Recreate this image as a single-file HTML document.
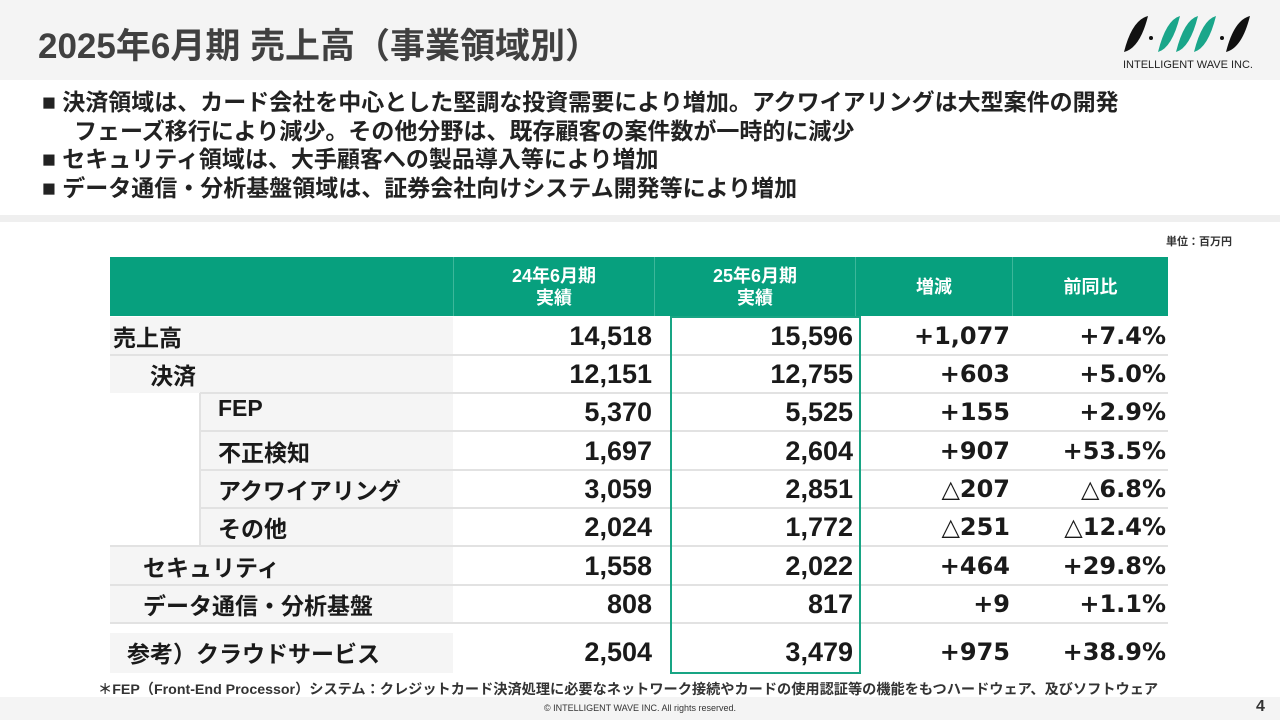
<!DOCTYPE html>
<html lang="ja"><head><meta charset="utf-8">
<style>
*{margin:0;padding:0;box-sizing:border-box}
body{width:1280px;height:720px;position:relative;background:#fff;font-family:"Liberation Sans","Noto Sans CJK JP",sans-serif;color:#1a1a1a;overflow:hidden}
.abs{position:absolute}
.hdr{left:0;top:0;width:1280px;height:80px;background:#f4f4f4}
.title{left:38px;top:18px;font-size:35px;font-weight:bold;color:#404040;white-space:nowrap}
.bul{left:42px;font-size:23px;font-weight:bold;color:#222;white-space:nowrap;line-height:28.5px}
.sep{left:0;top:215px;width:1280px;height:7px;background:#efefef}
.th{background:#07a07e;color:#fff;font-weight:bold;font-size:18px;text-align:center;display:flex;align-items:center;justify-content:center;line-height:22px;border-left:1px solid #3cb79a}
.lab{font-size:23px;font-weight:bold;white-space:nowrap}
.num{font-size:27px;font-weight:bold;text-align:right;white-space:nowrap;line-height:30px}
.num2{font-family:"DejaVu Sans","Noto Sans CJK JP",sans-serif;font-size:24px}
.line{height:2px;background:#e2e2e2}
</style></head><body>
<div class="abs hdr"></div>
<div class="abs title">2025年6月期 売上高（事業領域別）</div>
<div class="abs" style="left:1118px;top:12px;width:140px;height:60px">
<svg width="140" height="60" viewBox="0 0 140 60">
<path d="M6 40 Q14 8 30 4 Q22 36 6 40Z" fill="#111"/>
<circle cx="33" cy="26" r="2" fill="#111"/>
<path d="M40 40 Q48 8 62 4 Q54 36 40 40Z M58 40 Q66 8 80 4 Q72 36 58 40Z M76 40 Q84 8 98 4 Q90 36 76 40Z" fill="#1aa68a"/>
<circle cx="104" cy="26" r="2" fill="#111"/>
<path d="M108 40 Q116 8 132 4 Q124 36 108 40Z" fill="#111"/>
<text x="70" y="56" font-size="11" text-anchor="middle" fill="#222" font-family="Liberation Sans">INTELLIGENT WAVE INC.</text>
</svg></div>
<div class="abs bul" style="top:88px">■ 決済領域は、カード会社を中心とした堅調な投資需要により増加。アクワイアリングは大型案件の開発<br>&nbsp;&nbsp;&nbsp;&nbsp;&nbsp;フェーズ移行により減少。その他分野は、既存顧客の案件数が一時的に減少</div>
<div class="abs bul" style="top:145px">■ セキュリティ領域は、大手顧客への製品導入等により増加</div>
<div class="abs bul" style="top:174px">■ データ通信・分析基盤領域は、証券会社向けシステム開発等により増加</div>
<div class="abs sep"></div>
<div class="abs" style="left:1166px;top:233px;font-size:11px;font-weight:bold;color:#333">単位：百万円</div>

<div class="abs" style="left:110px;top:317px;width:343px;height:306px;background:#f5f5f5"></div>
<div class="abs" style="left:110px;top:633px;width:343px;height:40px;background:#f5f5f5"></div>
<div class="abs" style="left:110px;top:393px;width:90px;height:154px;background:#fff"></div>
<div class="abs" style="left:199px;top:393px;width:2px;height:154px;background:#e2e2e2"></div>

<div id="tbl"></div>

<div class="abs" style="left:670px;top:316px;width:191px;height:358px;border:2.5px solid #18a584"></div>

<div class="abs" style="left:98px;top:679px;font-size:14.2px;font-weight:bold;color:#333;white-space:nowrap">＊FEP（Front-End Processor）システム：クレジットカード決済処理に必要なネットワーク接続やカードの使用認証等の機能をもつハードウェア、及びソフトウェア</div>
<div class="abs" style="left:0;top:697px;width:1280px;height:23px;background:#f4f4f4"></div>
<div class="abs" style="left:0;top:703px;width:1280px;text-align:center;font-size:9px;color:#333">© INTELLIGENT WAVE INC. All rights reserved.</div>
<div class="abs" style="left:1256px;top:698px;font-size:16px;font-weight:bold;color:#333">4</div>

<script>
const headers=["24年6月期<br>実績","25年6月期<br>実績","増減","前同比"];
const labels=["売上高","決済","FEP","不正検知","アクワイアリング","その他","セキュリティ","データ通信・分析基盤","参考）クラウドサービス"];
const indents=[113,150,218,218,218,218,143,143,127];
const fy24=["14,518","12,151","5,370","1,697","3,059","2,024","1,558","808","2,504"];
const fy25=["15,596","12,755","5,525","2,604","2,851","1,772","2,022","817","3,479"];
const diff=["+1,077","+603","+155","+907","△207","△251","+464","+9","+975"];
const ratio=["+7.4%","+5.0%","+2.9%","+53.5%","△6.8%","△12.4%","+29.8%","+1.1%","+38.9%"];
const colX=[453,654,855,1012,1168];
const rowTop=[317,355,393,432,470,508,547,585,633];
const t=document.getElementById('tbl');
function mk(cls,st,html){const d=document.createElement('div');d.className='abs '+cls;d.style.cssText=st;d.innerHTML=html;t.appendChild(d);return d;}
const hb=mk('','left:110px;top:257px;width:1058px;height:59px;background:#07a07e','');


headers.forEach((h,i)=>{
 const d=mk('th',`left:${colX[i]}px;top:257px;width:${colX[i+1]-colX[i]}px;height:59px`,h);
 
 
});
labels.forEach((l,r)=>{
 const y=rowTop[r];
 const lb=mk('lab',`left:${indents[r]}px;top:${y+2}px`,l);
 
 
 [fy24,fy25,diff,ratio].forEach((arr,c)=>{
  const n=mk('num'+(c>=2?' num2':''),`left:${colX[c]}px;top:${y+4}px;width:${colX[c+1]-colX[c]-2}px`,arr[r]);
  
  
 });
 if(r<8){
  const lx=(r>=1&&r<=4)?200:110;
  const ln=mk('line',`left:${lx}px;top:${rowTop[r]+37}px;width:${1168-lx}px`,'');
  
  
 }
});
</script>
</body></html>
